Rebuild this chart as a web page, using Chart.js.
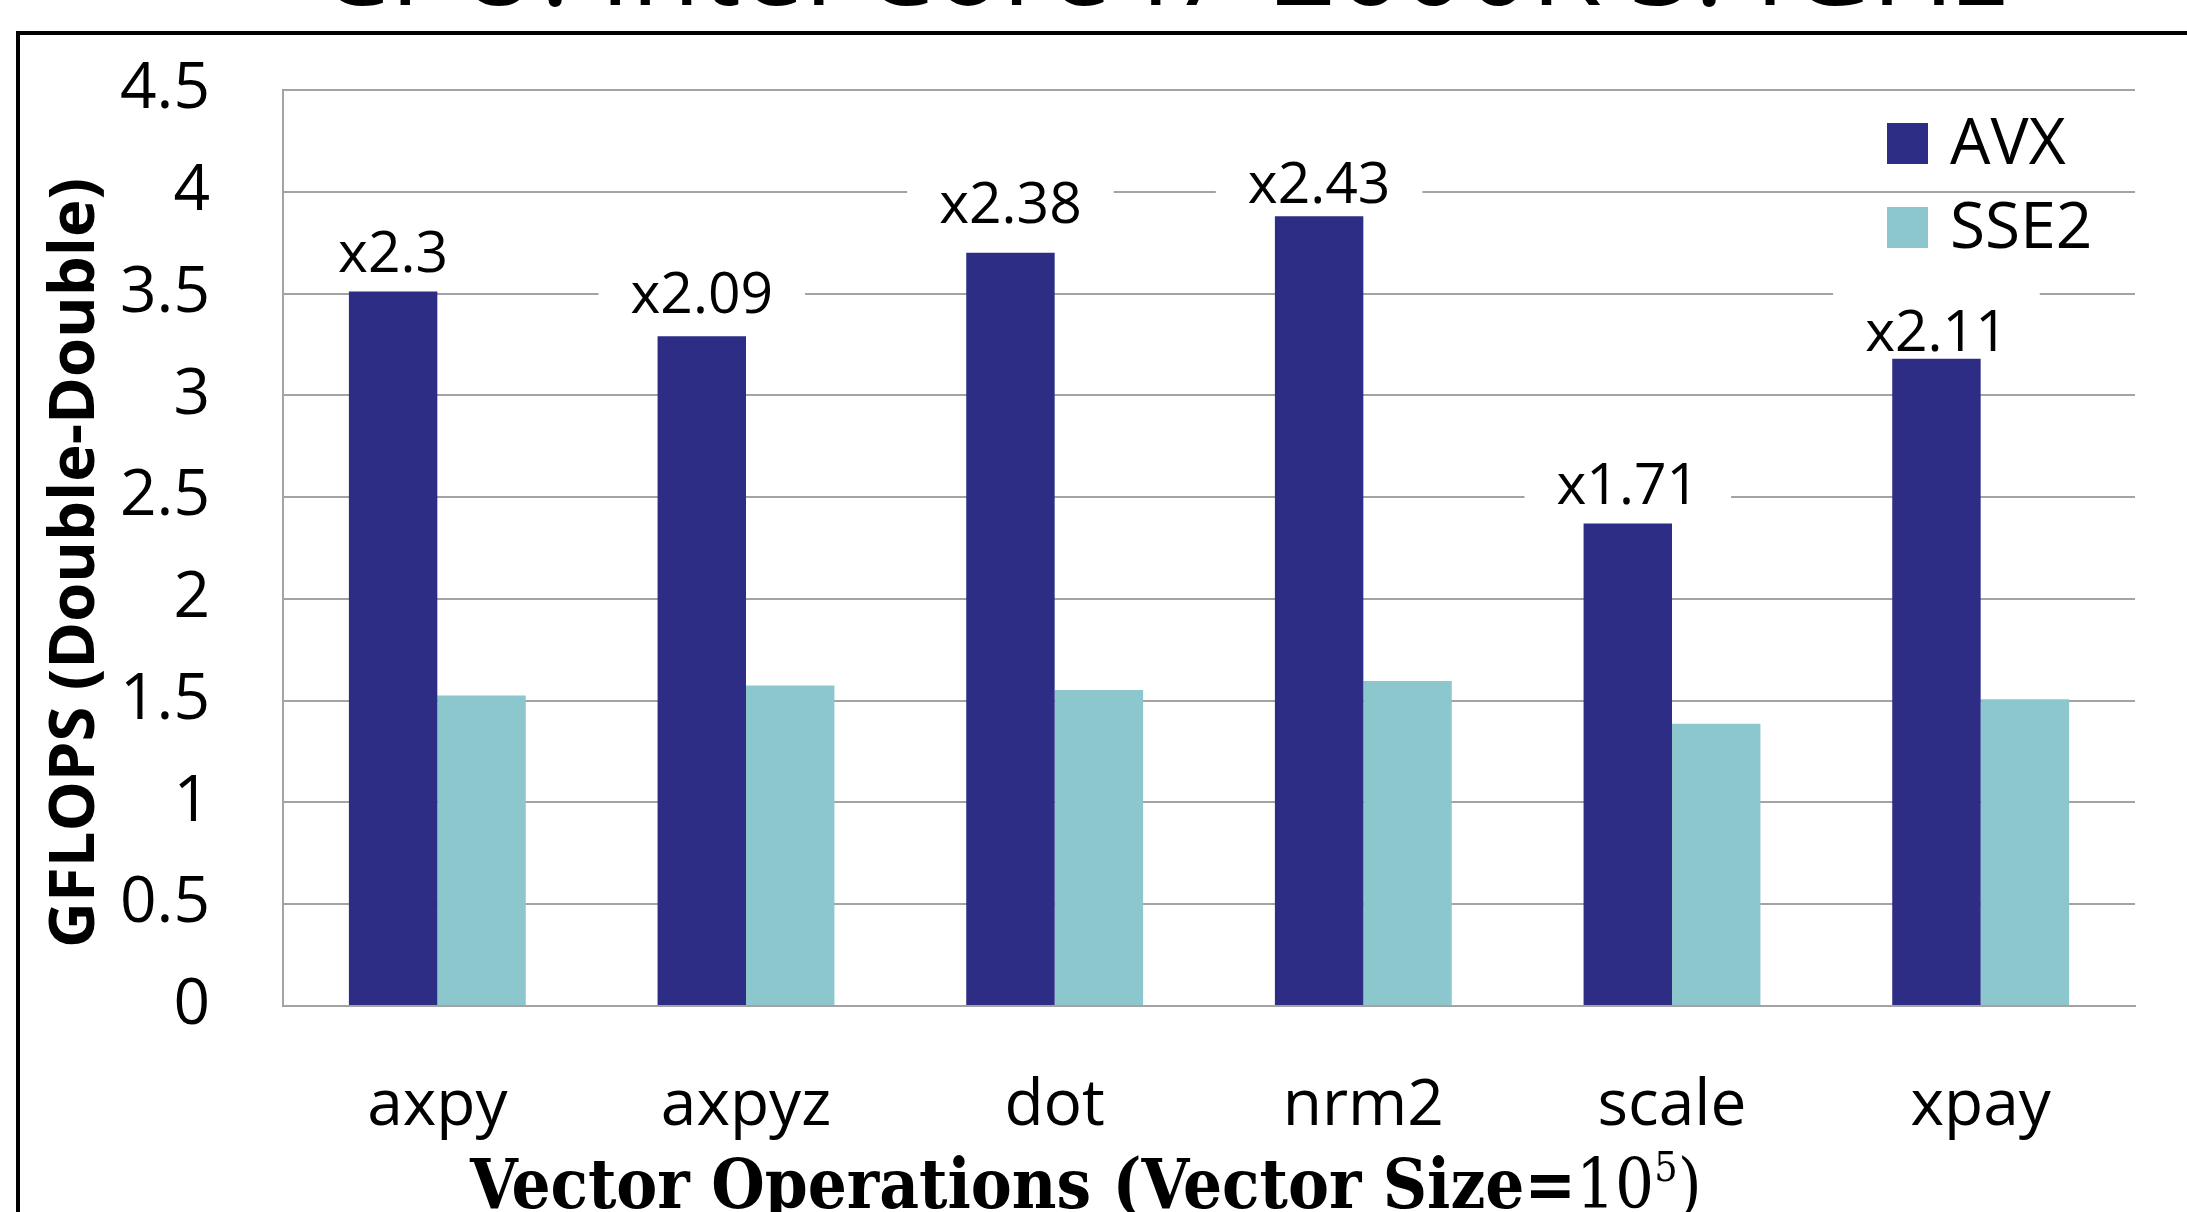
<!DOCTYPE html>
<html>
<head>
<meta charset="utf-8">
<title>AVX vs SSE2 vector operations</title>
<script src="https://cdn.jsdelivr.net/npm/chart.js@4.4.1/dist/chart.umd.min.js"></script>
<style>
  html, body { margin: 0; padding: 0; background: #fff; overflow: hidden; }
  canvas { display: block; }
</style>
</head>
<body>
<canvas id="chart" width="2187" height="1212"></canvas>
<script>
// Vector operations benchmarked (vector size 10^5)
const categories = ['axpy', 'axpyz', 'dot', 'nrm2', 'scale', 'xpay'];
// GFLOPS in double-double arithmetic
const avxValues  = [3.51, 3.29, 3.70, 3.88, 2.37, 3.18];
const sse2Values = [1.525, 1.575, 1.553, 1.597, 1.386, 1.507];
// Speed-up of AVX over SSE2, printed above each AVX bar
const speedupLabels = ['x2.3', 'x2.09', 'x2.38', 'x2.43', 'x1.71', 'x2.11'];
const seriesNames = ['AVX', 'SSE2'];

const pageTitle = 'CPU: Intel Core i7-2600K 3.4GHz';
const yTitle = 'GFLOPS (Double-Double)';

const AVX_COLOR = '#2e2d86';
const SSE2_COLOR = '#8cc7ce';
const GRID_COLOR = '#a3a3a3';
const SANS = '"Open Sans", "DejaVu Sans", sans-serif';
const SERIF = '"DejaVu Serif Condensed", "Liberation Serif", serif';

// Fit a font size so that the text spans the given width
function fitSize(ctx, text, weight, family, width) {
  ctx.font = weight + ' 100px ' + family;
  return 100 * width / ctx.measureText(text).width;
}

// Outer frame, cut-off page title, axis titles and legend
const framePlugin = {
  id: 'frame',
  beforeDraw(chart) {
    const ctx = chart.ctx;
    ctx.save();
    ctx.fillStyle = '#fff';
    ctx.fillRect(0, 0, chart.width, chart.height);
    // page title, mostly above the visible area
    const ts = fitSize(ctx, pageTitle, 'normal', SANS, 1690);
    ctx.font = ts + 'px ' + SANS;
    ctx.fillStyle = '#000';
    ctx.textBaseline = 'alphabetic';
    ctx.textAlign = 'left';
    ctx.fillText(pageTitle, 318, 5);
    // frame
    ctx.strokeStyle = '#000';
    ctx.lineWidth = 4;
    ctx.beginPath();
    ctx.moveTo(18, chart.height + 10);
    ctx.lineTo(18, 33);
    ctx.lineTo(chart.width + 10, 33);
    ctx.stroke();
    ctx.restore();
  },
  afterDraw(chart) {
    const ctx = chart.ctx;
    ctx.save();
    // y-axis title
    const ys = fitSize(ctx, yTitle, 'bold', SANS, 770);
    ctx.font = 'bold ' + ys + 'px ' + SANS;
    ctx.fillStyle = '#000';
    ctx.translate(76, 563);
    ctx.rotate(-Math.PI / 2);
    ctx.textAlign = 'center';
    ctx.textBaseline = 'middle';
    ctx.fillText(yTitle, 0, 0);
    ctx.restore();

    // x-axis title with superscript exponent
    ctx.save();
    const parts = [
      { t: 'Vector Operations (Vector Size=', w: 'bold', k: 1, dy: 0 },
      { t: '10', w: 'normal', k: 1, dy: 0 },
      { t: '5', w: 'normal', k: 0.6, dy: -0.4 },
      { t: ')', w: 'normal', k: 1, dy: 0 }
    ];
    const measureAt = (s) => parts.reduce((acc, p) => {
      ctx.font = p.w + ' ' + (s * p.k) + 'px ' + SERIF;
      return acc + ctx.measureText(p.t).width;
    }, 0);
    const s = 100 * 1232 / measureAt(100);
    let x = 470;
    ctx.fillStyle = '#000';
    ctx.textAlign = 'left';
    ctx.textBaseline = 'alphabetic';
    parts.forEach(p => {
      ctx.font = p.w + ' ' + (s * p.k) + 'px ' + SERIF;
      ctx.fillText(p.t, x, 1208 + p.dy * s);
      x += ctx.measureText(p.t).width;
    });
    ctx.restore();

    // legend
    ctx.save();
    ctx.font = '64px ' + SANS;
    ctx.textAlign = 'left';
    ctx.textBaseline = 'alphabetic';
    chart.data.datasets.forEach((ds, i) => {
      const top = 123 + i * 84;
      ctx.fillStyle = ds.backgroundColor;
      ctx.fillRect(1887, top, 41, 41);
      ctx.fillStyle = '#000';
      ctx.fillText(ds.label, 1950, top + 41);
    });
    ctx.restore();
  }
};

// Speed-up labels on white boxes above the AVX bars
const speedupPlugin = {
  id: 'speedup',
  beforeDatasetsDraw(chart, args, opts) {
    const ctx = chart.ctx;
    const meta = chart.getDatasetMeta(0);
    ctx.save();
    ctx.font = opts.size + 'px ' + SANS;
    ctx.fillStyle = '#fff';
    meta.data.forEach((bar, i) => {
      const cy = bar.y - opts.lift[i];
      const w = ctx.measureText(opts.labels[i]).width + 64;
      ctx.fillRect(bar.x - w / 2, cy - 46, w, 76);
    });
    ctx.restore();
  },
  afterDatasetsDraw(chart, args, opts) {
    const ctx = chart.ctx;
    const meta = chart.getDatasetMeta(0);
    ctx.save();
    ctx.font = opts.size + 'px ' + SANS;
    ctx.fillStyle = '#000';
    ctx.textAlign = 'center';
    ctx.textBaseline = 'alphabetic';
    meta.data.forEach((bar, i) => {
      const cy = bar.y - opts.lift[i];
      ctx.fillText(opts.labels[i], bar.x, cy + opts.size * 0.357);
    });
    ctx.restore();
  }
};

function build() {
  new Chart(document.getElementById('chart'), {
    type: 'bar',
    data: {
      labels: categories,
      datasets: [
        { label: seriesNames[0], data: avxValues, backgroundColor: AVX_COLOR,
          categoryPercentage: 0.573, barPercentage: 1.0 },
        { label: seriesNames[1], data: sse2Values, backgroundColor: SSE2_COLOR,
          categoryPercentage: 0.573, barPercentage: 1.0 }
      ]
    },
    options: {
      responsive: false,
      animation: false,
      devicePixelRatio: 1,
      layout: { padding: { top: 90, right: 52, left: 0, bottom: 0 } },
      plugins: {
        legend: { display: false },
        tooltip: { enabled: false },
        title: { display: false },
        speedup: { labels: speedupLabels, size: 57, lift: [40, 44, 50, 34, 40, 28] }
      },
      scales: {
        x: {
          afterFit(scale) {
            scale.height = 206;
            scale.paddingLeft = 0;
            scale.paddingRight = 0;
          },
          grid: { display: false, drawTicks: false },
          border: { display: true, color: GRID_COLOR, width: 2 },
          ticks: { color: '#000', font: { family: SANS, size: 64 }, padding: 62, maxRotation: 0 }
        },
        y: {
          min: 0,
          max: 4.5,
          afterFit(scale) {
            scale.width = 283;
            scale.paddingTop = 0;
            scale.paddingBottom = 0;
          },
          grid: { color: GRID_COLOR, lineWidth: 2, drawTicks: false },
          border: { display: true, color: GRID_COLOR, width: 2 },
          ticks: {
            stepSize: 0.5, color: '#000', font: { family: SANS, size: 64 }, padding: 73,
            callback: (v) => String(v)
          }
        }
      }
    },
    plugins: [framePlugin, speedupPlugin]
  });
}

Promise.all([
  document.fonts.load('64px "Open Sans"'),
  document.fonts.load('bold 64px "Open Sans"'),
  document.fonts.load('bold 64px "DejaVu Serif Condensed"'),
  document.fonts.load('64px "DejaVu Serif Condensed"')
]).then(build, build);
</script>
</body>
</html>
